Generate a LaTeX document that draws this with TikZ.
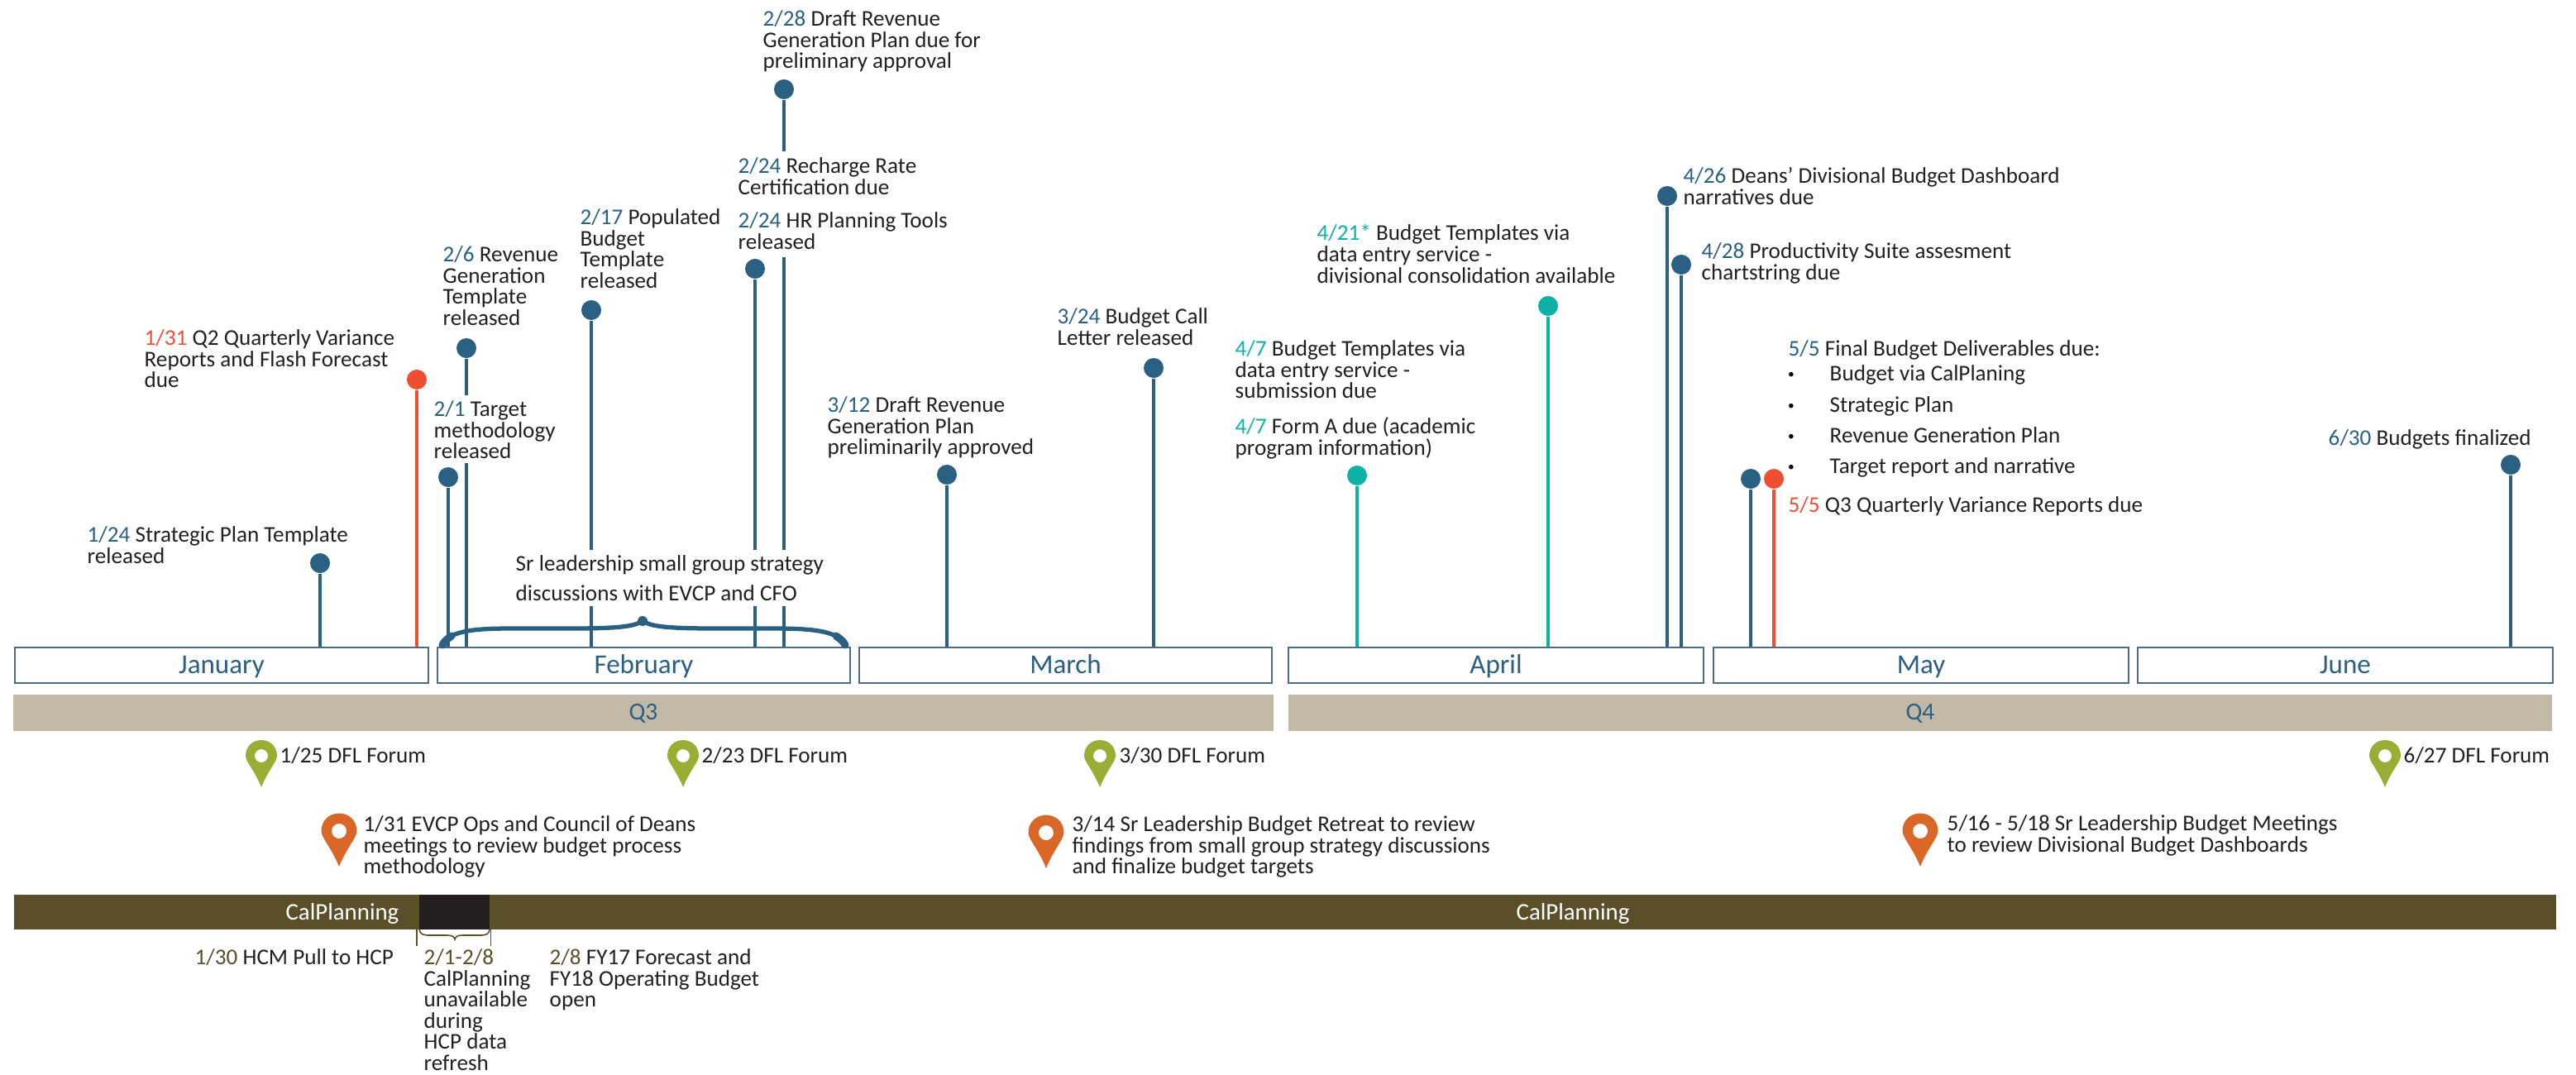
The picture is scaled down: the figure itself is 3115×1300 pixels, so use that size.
\documentclass[tikz,border=0pt]{standalone}
\usepackage{fontspec}
\setmainfont{Carlito}
\usepackage{tikz}
\definecolor{stemblue}{HTML}{2A6082}
\definecolor{stemred}{HTML}{F04E30}
\definecolor{stemteal}{HTML}{0DB2A4}
\definecolor{inkblack}{HTML}{231F20}
\definecolor{quartertan}{HTML}{C1B8A5}
\definecolor{calolive}{HTML}{5A4F29}
\definecolor{pingreen}{HTML}{9BAD35}
\definecolor{pinorange}{HTML}{D96727}
\definecolor{monthedge}{HTML}{4F6B80}
\newcommand{\lblfont}{\fontsize{7.72}{7.28}\selectfont\lineskiplimit=-5pt\color{inkblack}}
\newcommand{\blu}[1]{\textcolor{stemblue}{#1}}
\newcommand{\rdd}[1]{\textcolor{stemred}{#1}}
\newcommand{\tea}[1]{\textcolor{stemteal}{#1}}
\newcommand{\olv}[1]{\textcolor{calolive}{#1}}
\tikzset{
  lbl/.style={anchor=north west,inner sep=0pt,align=left,font=\lblfont,yshift=0.02cm},
  stem/.style={line width=1.15pt},
  dotmark/.style={circle,inner sep=0pt,minimum size=0.24cm},
  monthbox/.style={draw=monthedge,line width=0.6pt,fill=white,inner sep=0pt,minimum height=0.43cm,text=stemblue,text height=6.6pt,text depth=1.0pt,font=\fontsize{9.4}{10}\selectfont},
  barbox/.style={inner sep=0pt,minimum height=0.43cm,text height=5.8pt,text depth=1.2pt,font=\fontsize{8.4}{10}\selectfont},
  locpin/.pic={\path[pic actions,even odd rule] (0,0) .. controls (-8,-20) and (-19,-31) .. (-19,-38) .. controls (-19,-50) and (-10,-57) .. (0,-57) .. controls (10,-57) and (19,-50) .. (19,-38) .. controls (19,-31) and (8,-20) .. (0,0) -- cycle (0,-38) circle [radius=8];}
}
\begin{document}
\begin{tikzpicture}[x=0.01cm,y=-0.01cm]
  \useasboundingbox (0,0) rectangle (3115,1300);
  \foreach \mon/\xa/\xb in {January/18/518,February/529/1028,March/1039/1538,April/1558/2060,May/2072/2574,June/2585/3087}
  {
    \node (\mon) at ({(\xa+\xb)/2},804.5) [monthbox,minimum width={(\xb-\xa)*0.01cm}] {\mon};
  }
  \foreach \nm/\x/\y/\mon/\col in {d124/387/681/January/stemblue,d131/504/459/January/stemred,d201/542/577/February/stemblue,d217/715/375/February/stemblue,d224/913/325/February/stemblue,d312/1145/574/March/stemblue,d324/1395/445/March/stemblue,d407/1641/575/April/stemteal,d421/1872/370/April/stemteal,d426/2016/237/April/stemblue,d428/2033/320/April/stemblue,d505/2117/579/May/stemblue,e505/2145/579/May/stemred,d630/3036/562/June/stemblue}
  {
    \node (\nm) at (\x,\y) [dotmark,fill=\col] {};
    \draw [stem,\col] (\nm) -- (\nm |- \mon.north);
  }
  \node (d206) at (564,421) [dotmark,fill=stemblue] {};
  \coordinate (g206) at (564,478);
  \coordinate (h206) at (564,560);
  \draw [stem,stemblue] (d206) -- (g206);
  \draw [stem,stemblue] (h206) -- (h206 |- February.north);
  \node (d228) at (948,108) [dotmark,fill=stemblue] {};
  \coordinate (g228) at (948,183);
  \coordinate (h228) at (948,311);
  \draw [stem,stemblue] (d228) -- (g228);
  \draw [stem,stemblue] (h228) -- (h228 |- February.north);

  \node (t124) at (105,638) [lbl] {\blu{1/24} Strategic Plan Template\\released};
  \node (t131) at (174,400) [lbl] {\rdd{1/31} Q2 Quarterly Variance\\Reports and Flash Forecast\\due};
  \node (t206) at (535,299) [lbl] {\blu{2/6} Revenue\\Generation\\Template\\released};
  \node (t201) at (524,486) [lbl] {\blu{2/1} Target\\methodology\\released};
  \node (t217) at (701,254) [lbl] {\blu{2/17} Populated\\Budget\\Template\\released};
  \node (t228) at (922,14) [lbl] {\blu{2/28} Draft Revenue\\Generation Plan due for\\preliminary approval};
  \node (t224a) at (892,192) [lbl] {\blu{2/24} Recharge Rate\\Certification due};
  \node (t224b) at (892,258) [lbl] {\blu{2/24} HR Planning Tools\\released};
  \node (t312) at (1000,481) [lbl] {\blu{3/12} Draft Revenue\\Generation Plan\\preliminarily approved};
  \node (t324) at (1278,374) [lbl] {\blu{3/24} Budget Call\\Letter released};
  \node (t421) at (1592,273) [lbl] {\tea{4/21*} Budget Templates via\\data entry service -\\divisional consolidation available};
  \node (t407a) at (1493,413) [lbl] {\tea{4/7} Budget Templates via\\data entry service -\\submission due};
  \node (t407b) at (1493,506) [lbl] {\tea{4/7} Form A due (academic\\program information)};
  \node (t426) at (2035,204) [lbl] {\blu{4/26} Deans' Divisional Budget Dashboard\\narratives due};
  \node (t428) at (2057,295) [lbl] {\blu{4/28} Productivity Suite assesment\\chartstring due};
  \node (t505) at (2162,413) [lbl] {\blu{5/5} Final Budget Deliverables due:};
  \foreach \i/\txt/\yy in {1/Budget via CalPlaning/443,2/Strategic Plan/481,3/Revenue Generation Plan/518,4/Target report and narrative/555}
  {
    \node (b\i) at (2166,\yy+11) [inner sep=0pt,font=\fontsize{4.4}{5}\selectfont] {\textbullet};
    \node (i\i) at (2212,\yy) [lbl] {\txt};
  }
  \node (u505) at (2162,602) [lbl] {\rdd{5/5} Q3 Quarterly Variance Reports due};
  \node (t630) at (2815,521) [lbl] {\blu{6/30} Budgets finalized};

  \node (srtalk) at (623,666) [lbl,fill=white,inner ysep=2pt] {Sr leadership small group strategy\\[2.8pt]discussions with EVCP and CFO};
  \draw [stemblue,line width=1.5pt] (533,782) .. controls (542,763) and (570,760) .. (620,760) -- (690,760) .. controls (745,760) and (770,758) .. (777,750) .. controls (784,758) and (810,760) .. (865,760) -- (935,760) .. controls (985,760) and (1015,763) .. (1024,782);
  \draw [stemblue,line width=2.6pt,line cap=round] (535,780) .. controls (538,775) .. (546,769) (1022,780) .. controls (1019,775) .. (1011,769);
  \fill [stemblue] (777,751) circle [radius=6];

  \node (q3) at (778,862) [barbox,fill=quartertan,text=stemblue,minimum width=15.24cm] {Q3};
  \node (q4) at (2322,862) [barbox,fill=quartertan,text=stemblue,minimum width=15.28cm] {Q4};

  \foreach \x in {316,826,1330,2884}
  {
    \pic [fill=pingreen] at (\x,952) {locpin};
  }
  \node (f125) at (338,905) [lbl] {1/25 DFL Forum};
  \node (f223) at (848,905) [lbl] {2/23 DFL Forum};
  \node (f330) at (1353,905) [lbl] {3/30 DFL Forum};
  \node (f627) at (2906,905) [lbl] {6/27 DFL Forum};

  \foreach \x/\y in {410/1048,1265/1050,2322/1048}
  {
    \pic [fill=pinorange,scale=1.13] at (\x,\y) {locpin};
  }
  \node (m131) at (439,988) [lbl] {1/31 EVCP Ops and Council of Deans\\meetings to review budget process\\methodology};
  \node (m314) at (1296,988) [lbl] {3/14 Sr Leadership Budget Retreat to review\\findings from small group strategy discussions\\and finalize budget targets};
  \node (m516) at (2354,987) [lbl] {5/16 - 5/18 Sr Leadership Budget Meetings\\to review Divisional Budget Dashboards};

  \node (cal) at (1554,1103) [barbox,fill=calolive,minimum width=30.72cm,minimum height=0.42cm] {};
  \node (blk) at (549.5,1103) [barbox,fill=inkblack,minimum width=0.85cm,minimum height=0.42cm] {};
  \node (cala) at (414,1106) [inner sep=0pt,text height=5.2pt,text depth=1.5pt,font=\fontsize{8.2}{10}\selectfont,text=white] {CalPlanning};
  \node (calb) at (1902,1106) [inner sep=0pt,text height=5.2pt,text depth=1.5pt,font=\fontsize{8.2}{10}\selectfont,text=white] {CalPlanning};
  \draw [calolive,line width=0.45pt] (504,1124) -- (504,1144) (593.5,1124) -- (593.5,1144);
  \draw [calolive,line width=0.45pt] (507,1124) .. controls (508,1130) and (512,1131) .. (520,1131) -- (540,1131) .. controls (546,1131) and (549,1132) .. (550,1136) .. controls (551,1132) and (554,1131) .. (560,1131) -- (580,1131) .. controls (588,1131) and (591,1130) .. (592,1124);

  \node (s130) at (235,1149) [lbl] {\olv{1/30} HCM Pull to HCP};
  \node (s201) at (512,1149) [lbl] {\olv{2/1-2/8}\\CalPlanning\\unavailable\\during\\HCP data\\refresh};
  \node (s208) at (664,1149) [lbl] {\olv{2/8} FY17 Forecast and\\FY18 Operating Budget\\open};
\end{tikzpicture}
\end{document}
